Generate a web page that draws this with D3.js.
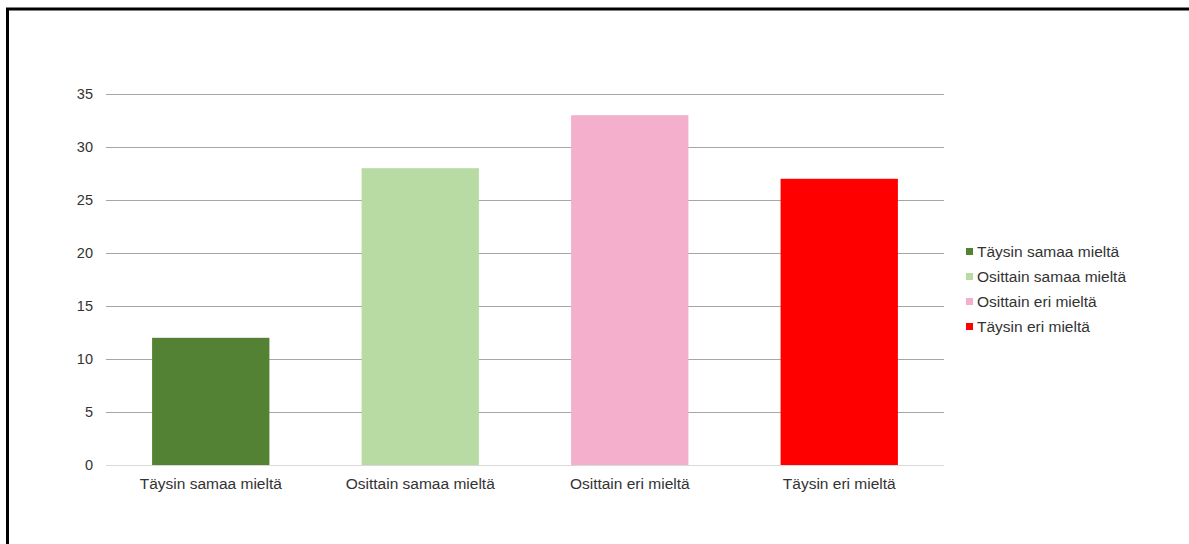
<!DOCTYPE html>
<html>
<head>
<meta charset="utf-8">
<script src="https://cdn.jsdelivr.net/npm/d3@7"></script>
<style>
  html, body { margin: 0; padding: 0; background: #fff; }
  svg { display: block; font-family: Arial, "Liberation Sans", sans-serif; }
</style>
</head>
<body>
<svg id="chart" width="1189" height="544"></svg>
<script>
// Survey answers: number of respondents per response option
const categories = ["Täysin samaa mieltä", "Osittain samaa mieltä", "Osittain eri mieltä", "Täysin eri mieltä"];
const counts = [12, 28, 33, 27];
const colors = ["#548235", "#b8dba4", "#f4afcc", "#ff0000"];
const yTicks = [0, 5, 10, 15, 20, 25, 30, 35];

const svg = d3.select("#chart");

// Outer frame
svg.append("rect")
  .attr("x", 7.5).attr("y", 9)
  .attr("width", 1200).attr("height", 560)
  .attr("fill", "none").attr("stroke", "#000").attr("stroke-width", 3);

const plot = { left: 106, right: 944, top: 94, bottom: 465 };

const x = d3.scaleBand()
  .domain(categories)
  .range([plot.left, plot.right])
  .paddingInner(0.44)
  .paddingOuter(0.22);

const y = d3.scaleLinear()
  .domain([0, 35])
  .range([plot.bottom, plot.top]);

// Horizontal gridlines and value labels
const yAxis = d3.axisLeft(y)
  .tickValues(yTicks)
  .tickSize(-(plot.right - plot.left))
  .tickPadding(13);

const gy = svg.append("g")
  .attr("transform", `translate(${plot.left},0)`)
  .call(yAxis);
gy.select(".domain").remove();
gy.selectAll(".tick line")
  .attr("stroke", d => d === 0 ? "#d9d9d9" : "#a6a6a6")
  .attr("stroke-width", 1);
gy.selectAll(".tick text")
  .attr("fill", "#333")
  .attr("font-size", 14.5)
  .attr("font-family", "Arial, 'Liberation Sans', sans-serif");

// Bars
svg.append("g")
  .selectAll("rect")
  .data(categories)
  .join("rect")
  .attr("x", d => x(d))
  .attr("width", x.bandwidth())
  .attr("y", (d, i) => y(counts[i]))
  .attr("height", (d, i) => y(0) - y(counts[i]))
  .attr("fill", (d, i) => colors[i]);

// Category labels
const xAxis = d3.axisBottom(x).tickSize(0).tickPadding(13);
const gx = svg.append("g")
  .attr("transform", `translate(0,${plot.bottom})`)
  .call(xAxis);
gx.select(".domain").remove();
gx.selectAll(".tick text")
  .attr("fill", "#333")
  .attr("font-size", 15.5)
  .attr("font-family", "Arial, 'Liberation Sans', sans-serif");

// Legend
const legend = svg.append("g")
  .attr("transform", "translate(966,252)");
const item = legend.selectAll("g")
  .data(categories)
  .join("g")
  .attr("transform", (d, i) => `translate(0,${i * 25})`);
item.append("rect")
  .attr("x", 0).attr("y", -4)
  .attr("width", 7).attr("height", 7)
  .attr("fill", (d, i) => colors[i]);
item.append("text")
  .attr("x", 11).attr("y", 0)
  .attr("dy", "0.35em")
  .attr("font-size", 15.5)
  .attr("fill", "#333")
  .text(d => d);
</script>
</body>
</html>
